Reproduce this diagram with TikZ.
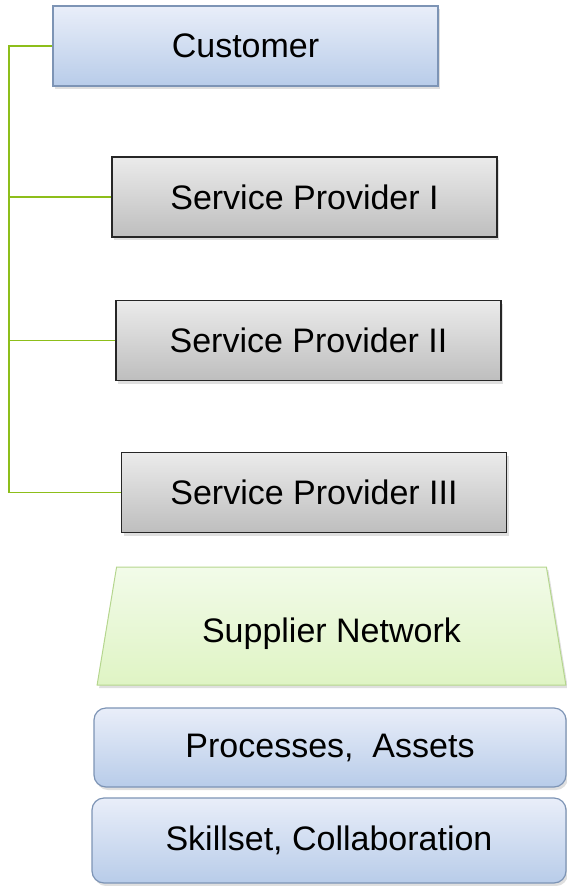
\documentclass[tikz,border=0pt]{standalone}
\usepackage{fontspec}
\setmainfont{Liberation Sans}
\usetikzlibrary{shapes.geometric, shadows}

\definecolor{custtop}{HTML}{E9EEF9}
\definecolor{custbot}{HTML}{B8CCE9}
\definecolor{custline}{HTML}{7D94B5}
\definecolor{provtop}{HTML}{EBEBEB}
\definecolor{provbot}{HTML}{BEBEBE}
\definecolor{supptop}{HTML}{F2FBE9}
\definecolor{suppbot}{HTML}{DFF4C4}
\definecolor{suppline}{HTML}{B5D68E}
\definecolor{linkgreen}{HTML}{8DBE1A}

\begin{document}
\begin{tikzpicture}[x=1pt, y=-1pt,
    every node/.style={font=\fontsize{34}{40}\selectfont, inner sep=0pt},
    shade/.style={drop shadow={opacity=0.25, shadow xshift=2pt, shadow yshift=-3pt}},
    customer/.style={rectangle, shade, draw=custline, line width=1.2pt,
        top color=custtop, bottom color=custbot, minimum width=385pt, minimum height=80pt},
    provider/.style={rectangle, shade, draw=black!85, line width=1.6pt,
        top color=provtop, bottom color=provbot, minimum width=385pt, minimum height=80pt},
    supplier/.style={trapezium, trapezium angle=76, trapezium stretches=true, shade,
        draw=suppline, line width=1pt, top color=supptop, bottom color=suppbot,
        minimum width=469pt, minimum height=118pt, text height=40pt},
    layer/.style={rectangle, rounded corners=12pt, shade, draw=custline, line width=1.2pt,
        top color=custtop, bottom color=custbot, minimum width=472pt},
    link/.style={draw=linkgreen, line width=1.8pt}]
   \useasboundingbox (0,0) rectangle (566,886);

   \node[customer] (customer) at (245.5,46)  {Customer};
   \node[provider] (sp1)      at (304.5,197) {Service Provider I};
   \node[provider] (sp2)      at (308.5,340.5) {Service Provider II};
   \node[provider] (sp3)      at (314,492.5) {Service Provider III};

   \node[supplier] (supplier) at (331.5,626) {Supplier Network};
   \node[layer, minimum height=79pt] (assets) at (330,747.5) {Processes,\ \ Assets};
   \node[layer, minimum height=85pt, minimum width=474pt] (skills) at (329,840.5) {Skillset, Collaboration};

   % tree connectors
   \coordinate (trunk) at (9,46);
   \draw[link] (customer.west) -- (trunk) |- (sp3.west);
   \draw[link] (sp1.west) -- (sp1.west -| trunk);
   \draw[link] (sp2.west) -- (sp2.west -| trunk);
\end{tikzpicture}
\end{document}
